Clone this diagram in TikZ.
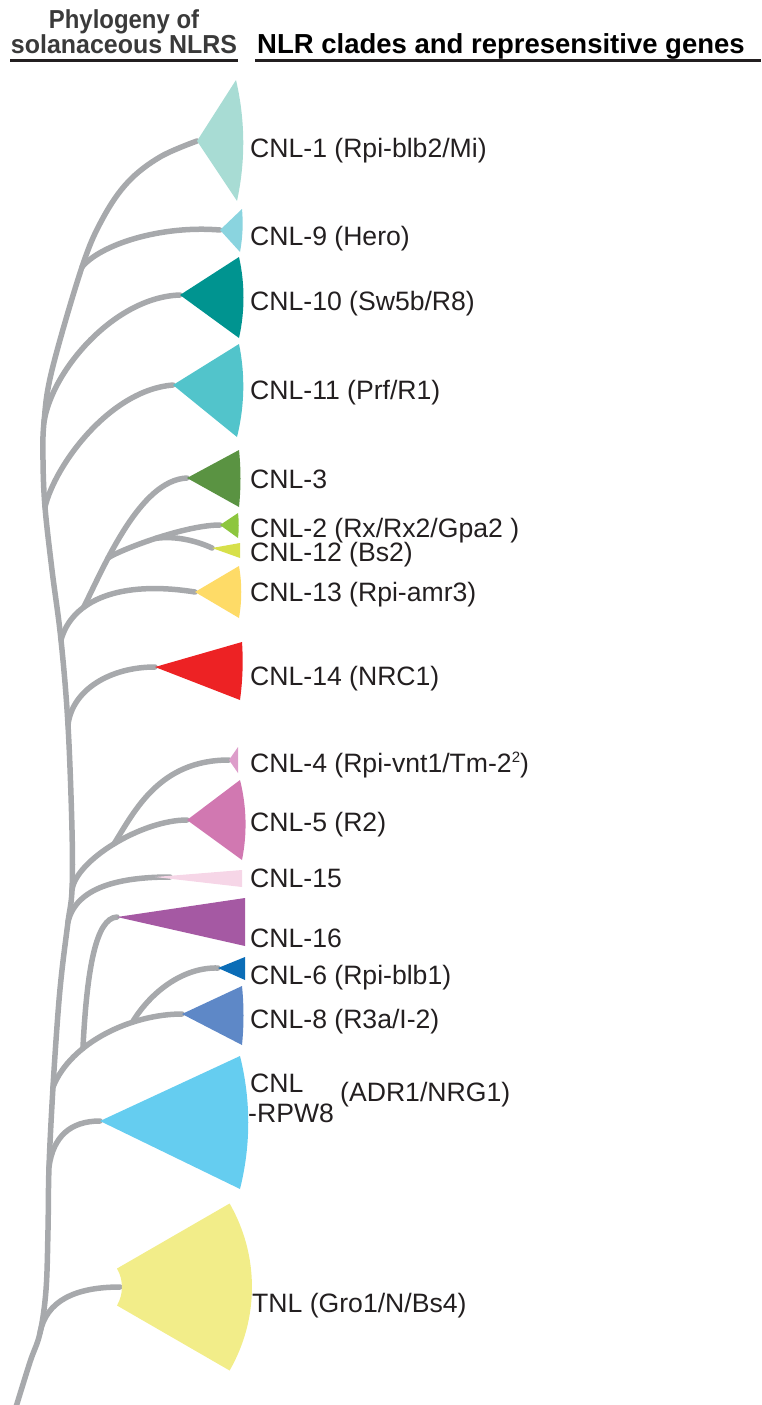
\documentclass[tikz,border=0pt]{standalone}
\usepackage{fontspec}
\setmainfont{Liberation Sans}
\usetikzlibrary{calc}

% palette
\definecolor{treegray}{HTML}{A7A9AC}
\definecolor{ink}{HTML}{231F20}
\definecolor{headgray}{HTML}{3A3A3A}
\definecolor{cOne}{HTML}{A8DCD4}
\definecolor{cNine}{HTML}{8AD4DF}
\definecolor{cTen}{HTML}{009490}
\definecolor{cEleven}{HTML}{52C4CB}
\definecolor{cThree}{HTML}{5A9342}
\definecolor{cTwo}{HTML}{8DC63F}
\definecolor{cTwelve}{HTML}{D7E04A}
\definecolor{cThirteen}{HTML}{FEDB67}
\definecolor{cFourteen}{HTML}{ED2224}
\definecolor{cFour}{HTML}{DD9DCA}
\definecolor{cFive}{HTML}{D178B1}
\definecolor{cFifteen}{HTML}{F6D6E7}
\definecolor{cSixteen}{HTML}{A559A3}
\definecolor{cSix}{HTML}{0B6DB7}
\definecolor{cEight}{HTML}{5E88C7}
\definecolor{cRpw}{HTML}{65CDF0}
\definecolor{cTnl}{HTML}{F2ED89}

% clade wedge: colour, apex, top corner, bottom corner, bulge of the outer edge
\newcommand\cladewedge[5]{%
  \fill[#1] (#2) -- (#3) .. controls ($(#3)!0.33!(#4)+(#5,0)$) and ($(#3)!0.67!(#4)+(#5,0)$) .. (#4) -- cycle;}
% small raised figure
\newcommand\supfig[1]{\raisebox{10pt}{\fontsize{15}{15}\selectfont #1}}

\begin{document}
\begin{tikzpicture}[x=1pt,y=-1pt,
  branch/.style={draw=treegray, line width=5.5pt, line cap=round},
  rule/.style={draw=ink, line width=3pt},
  lbl/.style={anchor=base west, inner sep=0pt, text=ink, font=\fontsize{26.6}{28}\selectfont},
  head/.style={inner sep=0pt, font=\bfseries\fontsize{26}{26}\selectfont},
]
\useasboundingbox (0,0) rectangle (761,1405);

% ---- headers ----
\node[head, anchor=base, text=headgray] (hA) at (124,29) {\scalebox{0.92}[1]{Phylogeny of}};
\node[head, anchor=base, text=headgray] (hB) at (124,54) {\scalebox{0.96}[1]{solanaceous NLRS}};
\node[head, anchor=base west, text=black, font=\bfseries\fontsize{27.5}{28}\selectfont] (hC) at (257,53) {NLR clades and represensitive genes};
\coordinate (rA1) at (10,61);  \coordinate (rA2) at (238,61);
\coordinate (rB1) at (255,61); \coordinate (rB2) at (761,61);
\draw[rule] (rA1) -- (rA2);
\draw[rule] (rB1) -- (rB2);

% ---- clade apices ----
\coordinate (a1)  at (197,141);
\coordinate (a9)  at (220,230);
\coordinate (a10) at (180,295);
\coordinate (a11) at (173,385);
\coordinate (a3)  at (187,478);
\coordinate (a2)  at (220,525);
\coordinate (a12) at (212,548);
\coordinate (a13) at (195,592);
\coordinate (a14) at (155,667);
\coordinate (a4)  at (229,760);
\coordinate (a5)  at (187,820);
\coordinate (a15) at (155,877);
\coordinate (e15) at (170,877);
\coordinate (a16) at (117,917);
\coordinate (a6)  at (218,968);
\coordinate (a8)  at (182,1014);
\coordinate (aR)  at (100,1121);
\coordinate (aT)  at (120,1287);

% ---- backbone junctions ----
\coordinate (root) at (16,1407);
\coordinate (jT) at (40,1333);
\coordinate (jR) at (49,1167);
\coordinate (jB) at (53,1087);
\coordinate (jC) at (68,922);
\coordinate (jD) at (72,890);
\coordinate (jE) at (68,725);
\coordinate (jF) at (61,640);
\coordinate (jG) at (45,507);
\coordinate (jH) at (44,422);
\coordinate (jI) at (82,267);

% ---- backbone ----
\draw[branch] plot[smooth, tension=0.6] coordinates {(root) (30,1362) (jT) (46,1290) (48,1230) (jR) (jB) (58,1013) (62,970) (jC) (jD) (72,830) (jE) (jF) (52,570) (jG) (43,460) (jH) (52,370) (jI) (103,218) (128,182) (160,157) (a1)};

% ---- side branches ----
\draw[branch] (jT) .. controls +(6,-32) and +(-45,0) .. (aT);
\draw[branch] (jR) .. controls +(4,-30) and +(-30,0) .. (aR);
\draw[branch] (jB) .. controls +(18,-45) and +(-50,0) .. (a8) coordinate[pos=0.33] (jK) coordinate[pos=0.68] (jL);
\draw[branch] (jK) .. controls +(4,-80) and +(-21,1) .. (a16);
\draw[branch] (jL) .. controls +(18,-30) and +(-35,-1) .. (a6);
\draw[branch] (jC) .. controls +(8,-35) and +(-50,0) .. (e15);
\draw[branch] (jD) .. controls +(4,-30) and +(-45,0) .. (a5) coordinate[pos=0.5] (jM);
\draw[branch] (jM) .. controls +(21,-34) and +(-69,0) .. (a4);
\draw[branch] (jE) .. controls +(4,-35) and +(-45,0) .. (a14);
\draw[branch] (jF) .. controls +(11,-40) and +(-75,-12) .. (a13) coordinate[pos=0.33] (jN);
\draw[branch] (jN) .. controls +(21,-42) and +(-47,2) .. (a3) coordinate[pos=0.32] (jO);
\draw[branch] (jO) .. controls +(12,-8) and +(-35,0) .. (a2) coordinate[pos=0.5] (jP);
\draw[branch] (jP) .. controls +(20,-3) and +(-15,-7) .. (a12);
\draw[branch] (jG) .. controls +(10,-42) and +(-63,5) .. (a11);
\draw[branch] (jH) .. controls +(8,-52) and +(-65,2) .. (a10);
\draw[branch] (jI) .. controls +(18,-22) and +(-60,-5) .. (a9);

% ---- collapsed clades ----
\cladewedge{cOne}{a1}{236,80}{237,201}{9}
\cladewedge{cNine}{a9}{242,209}{240,252}{2}
\cladewedge{cTen}{a10}{239,257}{239,338}{6}
\cladewedge{cEleven}{a11}{239,344}{237,437}{7}
\cladewedge{cThree}{a3}{239,450}{239,507}{2}
\cladewedge{cTwo}{a2}{238,513}{238,538}{1}
\cladewedge{cTwelve}{a12}{240,543}{240,558}{0}
\cladewedge{cThirteen}{a13}{239,566}{239,618}{3}
\cladewedge{cFourteen}{a14}{242,642}{240,700}{2}
\cladewedge{cFour}{a4}{238,747}{238,773}{0}
\cladewedge{cFive}{a5}{240,780}{242,860}{6}
\cladewedge{cFifteen}{a15}{242,870}{242,887}{0}
\cladewedge{cSixteen}{a16}{245,898}{245,946}{0}
\cladewedge{cSix}{a6}{245,957}{245,980}{0}
\cladewedge{cEight}{a8}{242,986}{242,1045}{2}
\cladewedge{cRpw}{aR}{240,1056}{240,1189}{11}
% TNL: sector of an annulus
\fill[cTnl] (117,1268.5) -- (229.6,1203.5) .. controls +(29.8,51.7) and +(29.8,-51.7) .. (229.6,1370.5)
  -- (117,1305.5) .. controls +(6.6,-11.4) and +(6.6,11.4) .. (117,1268.5) -- cycle;

% ---- labels ----
\node[lbl] (l1)  at (250,157)  {CNL-1 (Rpi-blb2/Mi)};
\node[lbl] (l9)  at (250,245)  {CNL-9 (Hero)};
\node[lbl] (l10) at (250,310)  {CNL-10 (Sw5b/R8)};
\node[lbl] (l11) at (250,399)  {CNL-11 (Prf/R1)};
\node[lbl] (l3)  at (250,488)  {CNL-3};
\node[lbl] (l2)  at (250,537)  {CNL-2 (Rx/Rx2/Gpa2 )};
\node[lbl] (l12) at (250,561)  {CNL-12 (Bs2)};
\node[lbl] (l13) at (250,601)  {CNL-13 (Rpi-amr3)};
\node[lbl] (l14) at (250,685)  {CNL-14 (NRC1)};
\node[lbl] (l4)  at (250,772)  {CNL-4 (Rpi-vnt1/Tm-2\supfig{2})};
\node[lbl] (l5)  at (250,831)  {CNL-5 (R2)};
\node[lbl] (l15) at (250,887)  {CNL-15};
\node[lbl] (l16) at (250,947)  {CNL-16};
\node[lbl] (l6)  at (250,984)  {CNL-6 (Rpi-blb1)};
\node[lbl] (l8)  at (250,1028) {CNL-8 (R3a/I-2)};
\node[lbl] (lRa) at (250,1092) {CNL};
\node[lbl] (lRb) at (248,1122) {-RPW8};
\node[lbl] (lRc) at (340,1101) {(ADR1/NRG1)};
\node[lbl] (lT)  at (252,1312) {TNL (Gro1/N/Bs4)};
\end{tikzpicture}
\end{document}
